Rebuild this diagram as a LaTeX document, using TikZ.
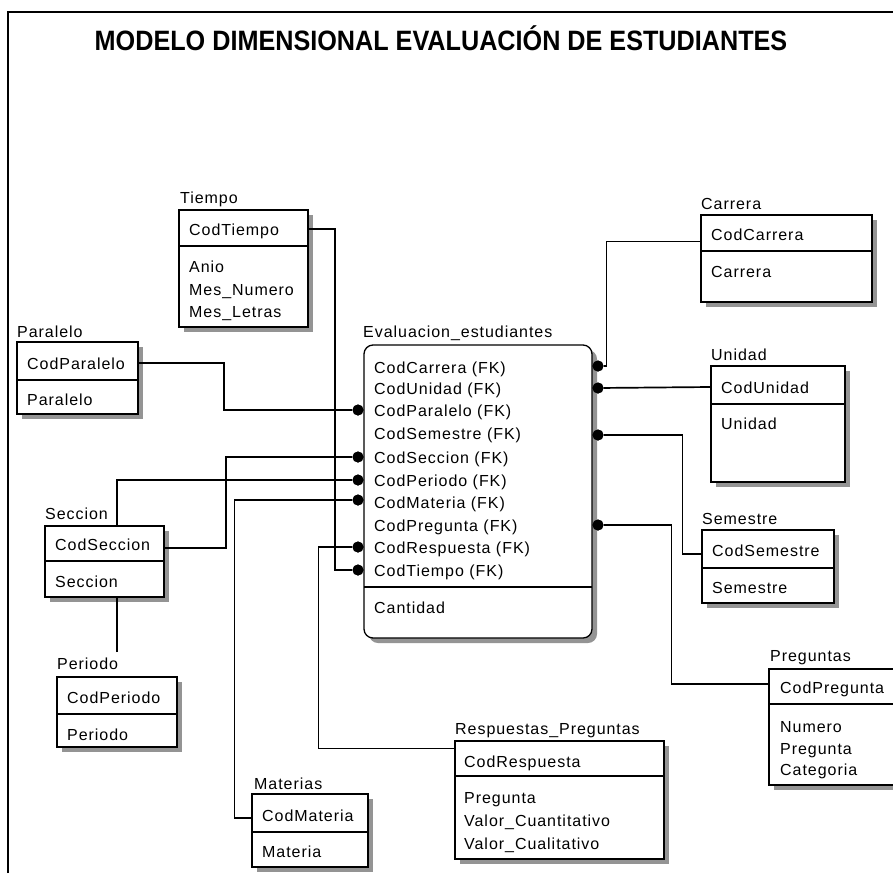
\documentclass[tikz,border=0pt]{standalone}
\usepackage{fontspec}
\setmainfont{Liberation Sans}[LetterSpace=6]
\newfontfamily\titlefont{Liberation Sans}
\usetikzlibrary{fit,shadows}
\newcommand\entity[6]{% name, x1, y1, x2, ydiv, y2
  \node[ent, fit={(#2,#3) (#4,#6)}] (#1) {};
  \draw[boxline] (#2,#5) -- (#4,#5);
}
\begin{document}
\begin{tikzpicture}[x=1pt,y=-1pt,
  ent/.style={draw=black, line width=1.3pt, fill=white, inner sep=0pt,
    drop shadow={shadow xshift=5pt, shadow yshift=-5pt, fill=black!42, opacity=1}},
  boxline/.style={line width=1.3pt},
  conn/.style={line width=1.7pt, black},
  dotn/.style={circle, fill=black, inner sep=0pt, minimum size=11pt},
  row/.style={anchor=west, inner sep=0pt, text height=12pt, text depth=0pt,
    font=\fontsize{16}{19}\selectfont},
  titlestyle/.style={inner sep=0pt, font=\titlefont\bfseries\fontsize{28}{32}\selectfont}
]
\useasboundingbox (0,0) rectangle (893,873);
\clip (0,0) rectangle (893,873);
\fill[white] (0,0) rectangle (893,873);

% frame
\draw[line width=2.2pt] (8,873) -- (8,12) -- (893,12);

% title
\node[titlestyle] (title) at (441,38) {\scalebox{0.9}[1]{MODELO DIMENSIONAL EVALUACIÓN DE ESTUDIANTES}};

% entities
\entity{tiempo}{179}{210}{308}{246}{327}
\entity{carrera}{701}{215}{872}{251}{302}
\entity{paralelo}{17}{342}{138}{380}{414}
\node[ent, rounded corners=9pt, fit={(364,345) (592,638)}] (fact) {};
\draw[boxline] (364,587) -- (592,587);
\entity{unidad}{711}{366}{845}{404}{482}
\entity{semestre}{702}{530}{834}{568}{603}
\entity{seccion}{45}{526}{164}{561}{597}
\entity{periodo}{57}{677}{177}{714}{747}
\entity{preguntas}{769}{669}{905}{704}{785}
\entity{respuestas}{455}{741}{664}{776}{859}
\entity{materias}{252}{794}{368}{832}{867}

% labels
\node[row] (lTiempo) at (180,197) {Tiempo};
\node[row] (lCarrera) at (701,203) {Carrera};
\node[row] (lParalelo) at (17,331) {Paralelo};
\node[row] (lFact) at (363,331) {Evaluacion\_estudiantes};
\node[row] (lUnidad) at (711,354) {Unidad};
\node[row] (lSemestre) at (702,518) {Semestre};
\node[row] (lSeccion) at (45,513) {Seccion};
\node[row] (lPeriodo) at (57,663) {Periodo};
\node[row] (lPreguntas) at (770,655) {Preguntas};
\node[row] (lRespuestas) at (455,728) {Respuestas\_Preguntas};
\node[row] (lMaterias) at (254,783) {Materias};

% rows
\node[row] (kTiempo) at (189,229) {CodTiempo};
\node[row] (aTiempo1) at (189,266) {Anio};
\node[row] (aTiempo2) at (189,289) {Mes\_Numero};
\node[row] (aTiempo3) at (189,311) {Mes\_Letras};

\node[row] (kCarrera) at (711,234) {CodCarrera};
\node[row] (aCarrera1) at (711,271) {Carrera};

\node[row] (kParalelo) at (27,363) {CodParalelo};
\node[row] (aParalelo1) at (27,399) {Paralelo};

\node[row] (fCarrera) at (374,367) {CodCarrera (FK)};
\node[row] (fUnidad) at (374,388) {CodUnidad (FK)};
\node[row] (fParalelo) at (374,410) {CodParalelo (FK)};
\node[row] (fSemestre) at (374,433) {CodSemestre (FK)};
\node[row] (fSeccion) at (374,457) {CodSeccion (FK)};
\node[row] (fPeriodo) at (374,480) {CodPeriodo (FK)};
\node[row] (fMateria) at (374,502) {CodMateria (FK)};
\node[row] (fPregunta) at (374,525) {CodPregunta (FK)};
\node[row] (fRespuesta) at (374,547) {CodRespuesta (FK)};
\node[row] (fTiempo) at (374,570) {CodTiempo (FK)};
\node[row] (fCantidad) at (374,607) {Cantidad};

\node[row] (kUnidad) at (721,387) {CodUnidad};
\node[row] (aUnidad1) at (721,423) {Unidad};

\node[row] (kSemestre) at (712,550) {CodSemestre};
\node[row] (aSemestre1) at (712,587) {Semestre};

\node[row] (kSeccion) at (55,544) {CodSeccion};
\node[row] (aSeccion1) at (55,581) {Seccion};

\node[row] (kPeriodo) at (67,697) {CodPeriodo};
\node[row] (aPeriodo1) at (67,734) {Periodo};

\node[row] (kPregunta) at (780,687) {CodPregunta};
\node[row] (aPregunta1) at (780,726) {Numero};
\node[row] (aPregunta2) at (780,748) {Pregunta};
\node[row] (aPregunta3) at (780,769) {Categoria};

\node[row] (kRespuesta) at (464,761) {CodRespuesta};
\node[row] (aRespuesta1) at (464,797) {Pregunta};
\node[row] (aRespuesta2) at (464,820) {Valor\_Cuantitativo};
\node[row] (aRespuesta3) at (464,843) {Valor\_Cualitativo};

\node[row] (kMateria) at (262,815) {CodMateria};
\node[row] (aMateria1) at (262,851) {Materia};

% dots on the fact table
\node[dotn] (dParalelo) at (358,410) {};
\node[dotn] (dSeccion) at (358,457) {};
\node[dotn] (dPeriodo) at (358,480) {};
\node[dotn] (dMateria) at (358,500) {};
\node[dotn] (dRespuesta) at (358,547) {};
\node[dotn] (dTiempo) at (358,570) {};
\node[dotn] (dCarrera) at (598,366) {};
\node[dotn] (dUnidad) at (598,388) {};
\node[dotn] (dSemestre) at (598,435) {};
\node[dotn] (dPregunta) at (598,525) {};

% connectors
\coordinate (pTop) at (117,652);
\draw[conn] (tiempo.east |- kTiempo) -- ++(26,0) |- (dTiempo);
\draw[conn] (paralelo.east |- kParalelo) -- ++(85,0) |- (dParalelo);
\draw[conn] ([yshift=-4pt]seccion.east |- kSeccion) -- ++(61,0) |- (dSeccion);
\draw[conn] (pTop) -- (pTop |- seccion.south);
\draw[conn] (pTop |- seccion.north) |- (dPeriodo);
\draw[conn] ([yshift=-3pt]materias.west |- kMateria) -- ++(-17,0) |- (dMateria);
\draw[conn] ([yshift=-8pt]respuestas.north west) -- ++(-136,0) |- (dRespuesta);
\draw[conn] ([yshift=-27pt]carrera.north west) -- ++(-94,0) |- (dCarrera);
\draw[conn] (unidad.west |- kUnidad) -- (dUnidad);
\draw[conn] ([yshift=-4pt]semestre.west |- kSemestre) -- ++(-19,0) |- (dSemestre);
\draw[conn] ([yshift=3pt]preguntas.west |- kPregunta) -- ++(-97,0) |- (dPregunta);

% redraw dots on top of connectors
\foreach \d in {dParalelo,dSeccion,dPeriodo,dMateria,dRespuesta,dTiempo,dCarrera,dUnidad,dSemestre,dPregunta}
  \fill (\d) circle (5.5pt);
\end{tikzpicture}
\end{document}
